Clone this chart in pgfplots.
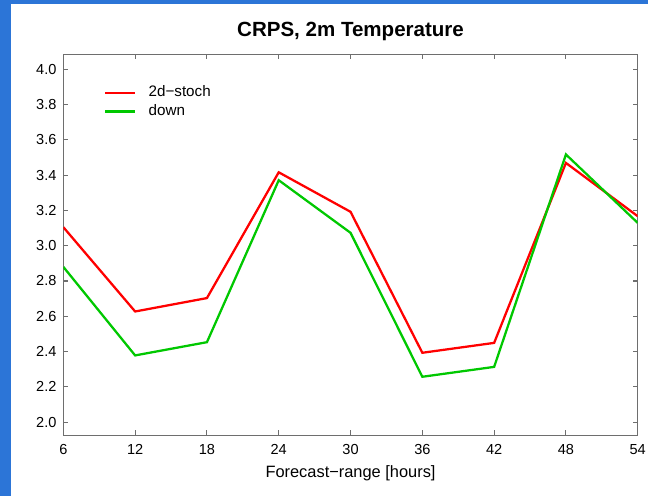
\documentclass[border=0pt]{standalone}
\usepackage{pgfplots}
\pgfplotsset{compat=1.18}
\usepackage{fontspec}
\setmainfont{Liberation Sans}
\definecolor{slideblue}{RGB}{44,117,215}
\definecolor{axisgray}{RGB}{110,110,110}
\definecolor{plotred}{RGB}{255,0,0}
\definecolor{plotgreen}{RGB}{0,200,0}

\begin{document}
\begin{tikzpicture}
% slide background with blue frame on the left and top
\fill[slideblue] (0,0) rectangle (486pt,372pt);
\fill[white] (8.25pt,0) rectangle (486pt,369pt);
\begin{axis}[
  at={(47.5pt,45.5pt)}, anchor=south west,
  scale only axis, width=430.8pt, height=285.8pt,
  xmin=6, xmax=54, ymin=1.925, ymax=4.085,
  xtick={6,12,18,24,30,36,42,48,54},
  ytick={2,2.2,2.4,2.6,2.8,3,3.2,3.4,3.6,3.8,4},
  /pgf/number format/assume math mode=true,
  tick align=inside, major tick length=3.75pt,
  axis line style={axisgray, line width=0.9pt},
  tick style={axisgray, line width=0.8pt},
  tick label style={font=\fontsize{10.9}{13}\selectfont},
  xticklabel style={anchor=base, inner sep=0pt, yshift=-14.6pt},
  yticklabel style={anchor=east, inner sep=0pt, xshift=-5pt,
    /pgf/number format/fixed, /pgf/number format/fixed zerofill,
    /pgf/number format/precision=1},
  title={CRPS, 2m Temperature},
  title style={font=\bfseries\fontsize{15.4}{18}\selectfont, at={(0.5,1)}, anchor=base, yshift=7pt, inner sep=0pt},
  xlabel={Forecast−range [hours]},
  xlabel style={font=\fontsize{12.3}{14}\selectfont, at={(0.5,0)}, anchor=base, yshift=-31.4pt, inner sep=0pt},
  legend style={draw=none, fill=none, at={(0.064,0.924)}, anchor=north west,
    font=\fontsize{11.4}{13}\selectfont, row sep=3.2pt, column sep=9pt,
    nodes={inner sep=0pt, text height=8pt, text depth=2.5pt}},
  legend cell align=left,
  legend image code/.code={\draw[#1] (0pt,0pt) -- (22.5pt,0pt);},
]
\addplot[plotred, line width=1.7pt] coordinates {
  (6,3.105) (12,2.627) (18,2.703) (24,3.416) (30,3.192)
  (36,2.393) (42,2.449) (48,3.469) (54,3.167)};
\addlegendentry{2d−stoch}
\addplot[plotgreen, line width=1.7pt] coordinates {
  (6,2.880) (12,2.378) (18,2.453) (24,3.371) (30,3.073)
  (36,2.257) (42,2.313) (48,3.517) (54,3.129)};
\addlegendentry{down}
\end{axis}
\end{tikzpicture}
\end{document}
